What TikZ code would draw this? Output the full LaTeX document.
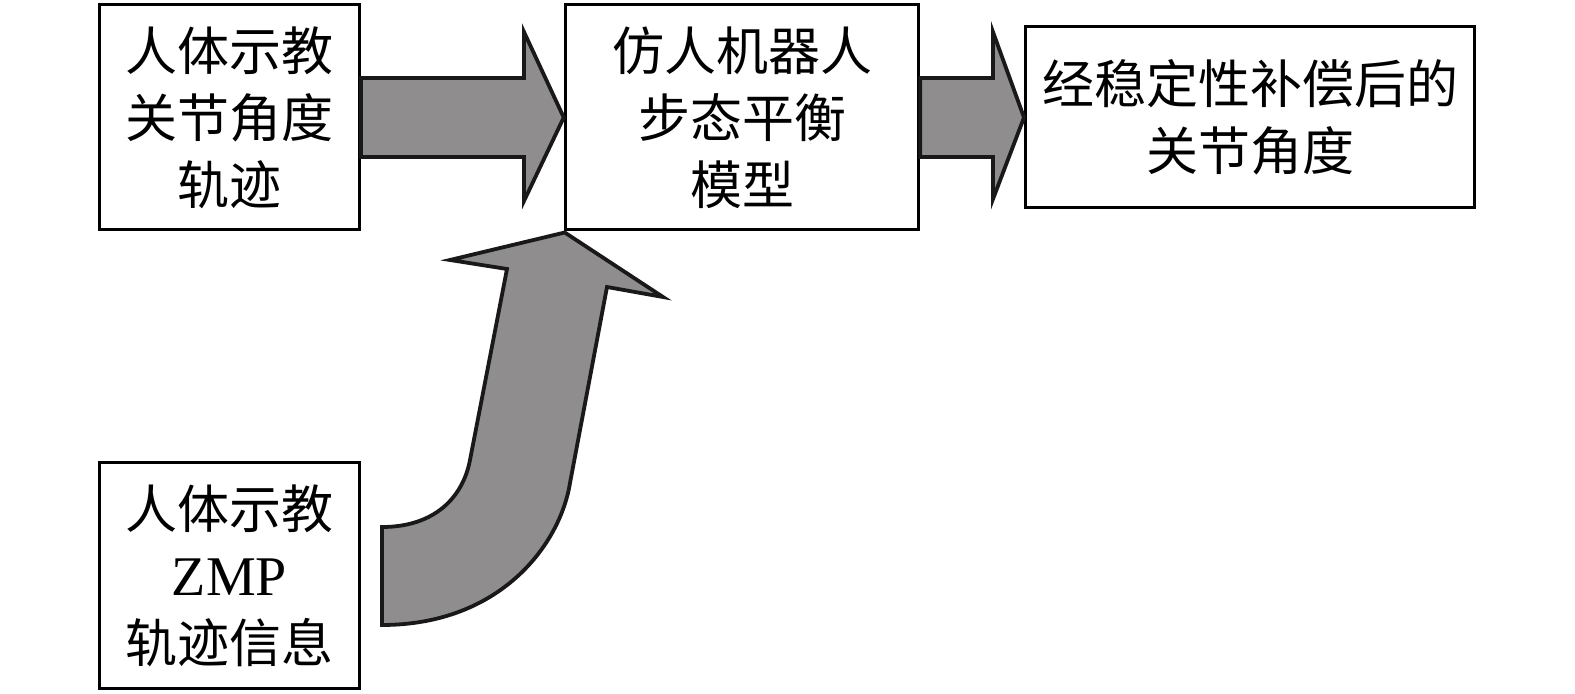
\documentclass[tikz,border=0pt]{standalone}
\usepackage{fontspec}
\setmainfont{Liberation Serif}
\newfontfamily\cjk{Noto Sans CJK SC}
\usetikzlibrary{calc}
\definecolor{arrowgray}{RGB}{143,141,142}
\tikzset{
  box/.style={draw=black, line width=1.5pt, fill=white, inner sep=0pt, align=center,
    font=\cjk\fontsize{26}{33.5}\selectfont},
  bigarrow/.style={draw=black!90, line width=1.9pt, fill=arrowgray, line join=miter}
}
\begin{document}
\begin{tikzpicture}[x=0.5pt,y=-0.5pt]
\useasboundingbox (0,0) rectangle (1575,694);
\node[box, minimum width=130pt, minimum height=112.5pt] (A) at (229.5,117.5) {人体示教\\关节角度\\轨迹};
\node[box, minimum width=176.75pt, minimum height=112.5pt] (B) at (742,117.5) {仿人机器人\\步态平衡\\模型};
\node[box, minimum width=224.5pt, minimum height=90.5pt] (C) at (1250,117.5) {经稳定性补偿后的\\关节角度};
\node[box, minimum width=130pt, minimum height=113pt] (D) at (229.5,576) {人体示教\\{\rmfamily\fontsize{28}{33.5}\selectfont ZMP}\\轨迹信息};
% straight block arrows
\draw[bigarrow] (A.east |- 0,78) -- (524,78) -- (524,32) -- (B.west) -- (524,201) -- (524,157) -- (A.east |- 0,157) -- cycle;
\draw[bigarrow] (B.east |- 0,78) -- (993,78) -- (993,32) -- (C.west) -- (993,199) -- (993,157) -- (B.east |- 0,157) -- cycle;
% curved block arrow
\coordinate (tip) at ($(B.south west)+(1,1)$);
\draw[bigarrow] (382,527) .. controls (435,527) and (463,497) .. (470,460)
  -- (507,269) -- (450,260) -- (tip) -- (663,297) -- (607,287) -- (570,483)
  .. controls (560,545) and (500,625) .. (382,625) -- cycle;
\end{tikzpicture}
\end{document}
